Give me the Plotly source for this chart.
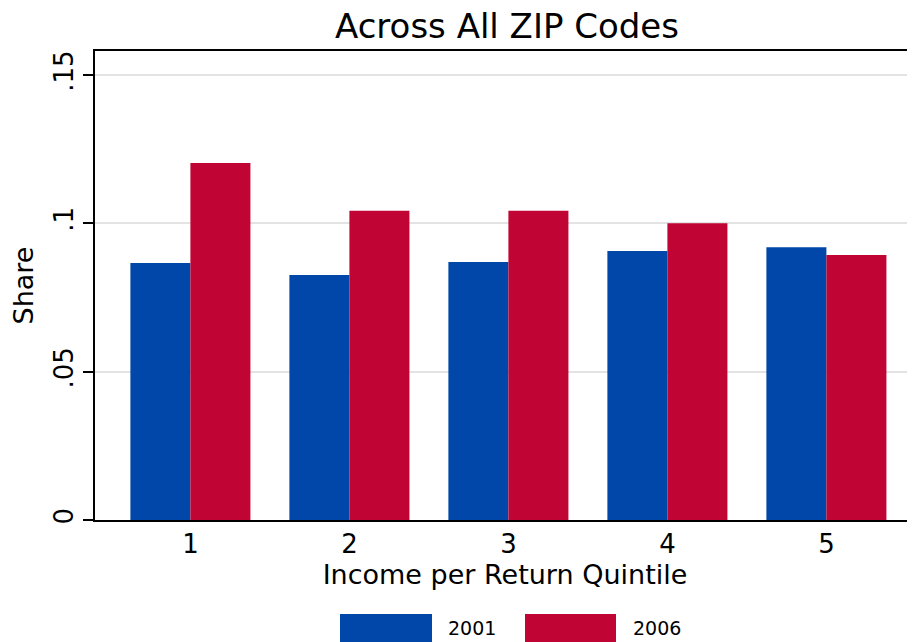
import plotly.graph_objects as go

quintiles = [1, 2, 3, 4, 5]
share_2001 = [0.0866, 0.0826, 0.0870, 0.0907, 0.0919]
share_2006 = [0.1203, 0.1042, 0.1042, 0.1000, 0.0893]
ytick_vals = [0, 0.05, 0.10, 0.15]
ytick_text = ["0", ".05", ".1", ".15"]
series_names = ["2001", "2006"]
BLUE = "#0047A9"
RED = "#C00434"
FONT = "DejaVu Sans"

fig = go.Figure()
fig.add_trace(go.Bar(x=quintiles, y=share_2001, name=series_names[0],
                     marker=dict(color=BLUE, line=dict(width=0)), showlegend=False))
fig.add_trace(go.Bar(x=quintiles, y=share_2006, name=series_names[1],
                     marker=dict(color=RED, line=dict(width=0)), showlegend=False))

OFF = 8  # page body margin
W, H = 915 - OFF, 642 - OFF
L, R, T, B = 95 - OFF, 0, 51 - OFF, 122
pw = W - L - R
ph = H - T - B

def px2paper_x(px):
    return (px - OFF - L) / pw

def px2paper_y(py):
    return (H - B - (py - OFF)) / ph

legend_items = [(340, 432, 446, BLUE, series_names[0]), (525, 616, 631, RED, series_names[1])]
shapes = []
annotations = []
for x0, x1, tx, col, label in legend_items:
    shapes.append(dict(type="rect", xref="paper", yref="paper",
                       x0=px2paper_x(x0), x1=px2paper_x(x1),
                       y0=px2paper_y(642), y1=px2paper_y(614),
                       fillcolor=col, line=dict(width=0)))
    annotations.append(dict(xref="paper", yref="paper", x=px2paper_x(tx), y=px2paper_y(628),
                            text=label, showarrow=False, xanchor="left", yanchor="middle",
                            font=dict(family=FONT, size=19, color="black")))

fig.update_layout(
    width=W, height=H,
    margin=dict(l=L, r=R, t=T, b=B, autoexpand=False),
    paper_bgcolor="white", plot_bgcolor="white",
    barmode="group", bargap=0.245, bargroupgap=0,
    title=dict(text="Across All ZIP Codes", x=(507 - OFF) / W, xanchor="center",
               y=1 - (26 - OFF) / H, yanchor="middle",
               font=dict(family=FONT, size=34, color="black")),
    font=dict(family=FONT, color="black"),
    xaxis=dict(range=[0.4, 0.4 + pw / 159.0], tickvals=quintiles,
               ticktext=[str(q) for q in quintiles], ticks="",
               showline=True, linecolor="black", linewidth=1.5, mirror=True,
               showgrid=False, zeroline=False,
               tickfont=dict(family=FONT, size=26),
               title=dict(text="Income per Return Quintile", standoff=6,
                          font=dict(family=FONT, size=27))),
    yaxis=dict(range=[0, ph / 2966.7], tickvals=ytick_vals, ticktext=ytick_text,
               tickangle=-90, ticks="outside", ticklen=10, tickwidth=1.5, tickcolor="black",
               showline=True, linecolor="black", linewidth=1.5,
               showgrid=True, gridcolor="#e3e3e3", gridwidth=2, zeroline=False,
               tickfont=dict(family=FONT, size=26),
               title=dict(text="Share", standoff=10, font=dict(family=FONT, size=27))),
    shapes=shapes, annotations=annotations,
)

fig.write_html("out.html")
